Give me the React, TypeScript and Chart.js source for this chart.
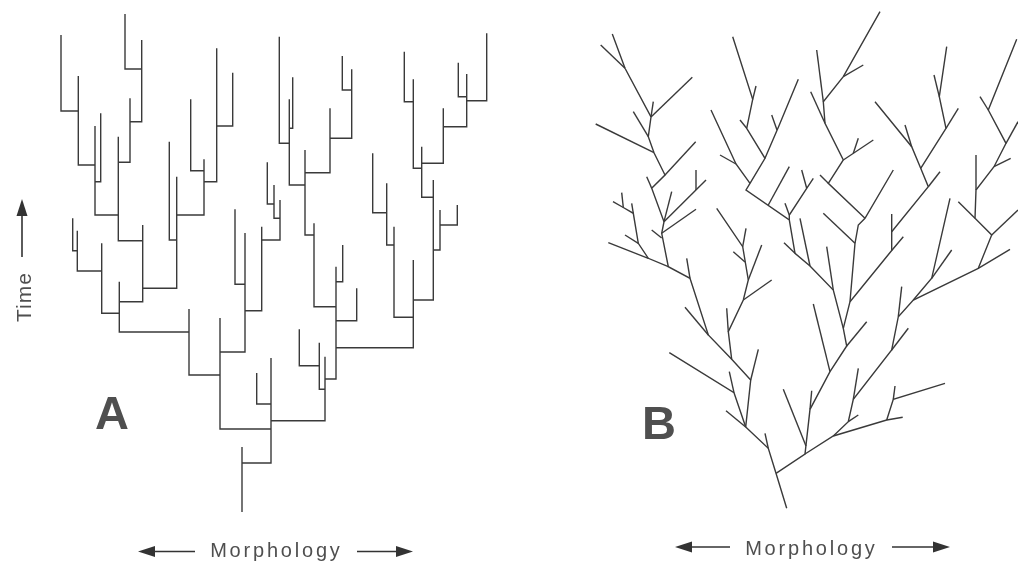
import React, { useEffect, useRef } from "react";
import { Chart, registerables } from "chart.js";

Chart.register(...registerables);

type Pt = [number, number];

// Panel A: punctuated pattern (rectangular branching). Each polyline: [morphology, time-row]
const treeA: Pt[][] = [
  [[242, 512], [242, 447]],
  [[242, 463], [271, 463], [271, 358]],
  [[271, 429], [220, 429], [220, 318]],
  [[271, 420.7], [325, 420.7], [325, 356.7]],
  [[271, 404], [256.7, 404], [256.7, 373]],
  [[220, 375], [189, 375], [189, 309]],
  [[220, 352], [245, 352], [245, 233]],
  [[189, 332], [119.3, 332], [119.3, 281.7]],
  [[245, 310.7], [261.7, 310.7], [261.7, 226.7]],
  [[245, 284.3], [235, 284.3], [235, 209.3]],
  [[261.7, 240], [280, 240], [280, 200]],
  [[280, 218.3], [274, 218.3], [274, 185]],
  [[274, 204], [267.3, 204], [267.3, 162.3]],
  [[325, 389.3], [319.3, 389.3], [319.3, 342.7]],
  [[319.3, 365.7], [299.3, 365.7], [299.3, 329.3]],
  [[325, 379], [336, 379], [336, 266.7]],
  [[336, 347.7], [413.3, 347.7], [413.3, 260]],
  [[336, 320.7], [356.7, 320.7], [356.7, 288.3]],
  [[336, 306.7], [314, 306.7], [314, 223.3]],
  [[336, 281.7], [342.7, 281.7], [342.7, 245]],
  [[314, 235], [305, 235], [305, 150]],
  [[305, 172.7], [330, 172.7], [330, 108.3]],
  [[330, 138.3], [351.7, 138.3], [351.7, 69.3]],
  [[351.7, 90], [342.3, 90], [342.3, 56]],
  [[305, 185], [289.3, 185], [289.3, 99.3]],
  [[289.3, 143.3], [279.3, 143.3], [279.3, 36.7]],
  [[289.3, 128.3], [292.7, 128.3], [292.7, 77.3]],
  [[413.3, 300], [433.3, 300], [433.3, 180]],
  [[413.3, 317.3], [394, 317.3], [394, 226.7]],
  [[394, 245], [386.7, 245], [386.7, 183.3]],
  [[386.7, 212.7], [372.7, 212.7], [372.7, 153.3]],
  [[433.3, 250], [440, 250], [440, 210]],
  [[440, 225], [457.3, 225], [457.3, 205]],
  [[433.3, 197.3], [421.7, 197.3], [421.7, 146.7]],
  [[421.7, 168.3], [413.3, 168.3], [413.3, 79.3]],
  [[421.7, 163.3], [443.3, 163.3], [443.3, 108.3]],
  [[443.3, 126.7], [466.7, 126.7], [466.7, 74]],
  [[466.7, 100.7], [486.7, 100.7], [486.7, 33.3]],
  [[466.7, 96.7], [458.3, 96.7], [458.3, 62.7]],
  [[413.3, 101.7], [404.3, 101.7], [404.3, 51.7]],
  [[119.3, 301.7], [142.7, 301.7], [142.7, 225]],
  [[119.3, 313.3], [101.7, 313.3], [101.7, 243.3]],
  [[142.7, 288.3], [176.7, 288.3], [176.7, 176.7]],
  [[142.7, 240.7], [118.3, 240.7], [118.3, 136.7]],
  [[176.7, 240], [169.3, 240], [169.3, 141.7]],
  [[176.7, 215], [204, 215], [204, 159.3]],
  [[204, 181.7], [216.7, 181.7], [216.7, 48.3]],
  [[204, 170.7], [190.7, 170.7], [190.7, 99.3]],
  [[216.7, 126], [232.7, 126], [232.7, 72.7]],
  [[118.3, 215], [95, 215], [95, 126]],
  [[118.3, 162.3], [130, 162.3], [130, 98.3]],
  [[130, 121.7], [141.7, 121.7], [141.7, 40]],
  [[141.7, 69], [125, 69], [125, 14]],
  [[95, 181.7], [100.7, 181.7], [100.7, 113.3]],
  [[95, 165], [78.3, 165], [78.3, 76]],
  [[78.3, 111], [61, 111], [61, 35]],
  [[101.7, 271], [77.3, 271], [77.3, 230.7]],
  [[77.3, 250.7], [72.7, 250.7], [72.7, 218.3]],
];

// Panel B: gradual pattern (oblique branching)
const treeB: Pt[][] = [
  // left lineage
  [[786.7, 508.3], [776, 473.3], [768.3, 448.3], [745.7, 427], [750.7, 380], [731.7, 359.3], [708.3, 335], [690, 278.3], [668.3, 266.7], [661.7, 233.3], [664, 221.7], [651.7, 188.3], [665, 175], [654, 152.7], [648.3, 136.7], [651, 117], [625, 68.3], [612.3, 34]],
  [[625, 68.3], [600.7, 45]],
  [[651, 117], [653.3, 101.7]],
  [[651, 117], [692.3, 77.3]],
  [[648.3, 136.7], [633.3, 111.7]],
  [[654, 152.7], [595.7, 124]],
  [[665, 175], [695.7, 141.7]],
  [[651.7, 188.3], [646.7, 176.7]],
  [[664, 221.7], [706, 180]],
  [[696.5, 189.4], [696, 170]],
  [[664, 221.7], [671.7, 191.7]],
  [[661.7, 233.3], [696, 209.3]],
  [[661.7, 238], [651.7, 230]],
  [[668.3, 266.7], [648.3, 258.3], [638.3, 243.3], [633.3, 213.3], [623.3, 207.5], [613, 201.7]],
  [[648.3, 258.3], [608.3, 242.7]],
  [[638.3, 243.3], [625, 235]],
  [[633.3, 213.3], [631.7, 203.3]],
  [[623.3, 207.5], [621.7, 192.7]],
  [[690, 278.3], [686.7, 258.3]],
  [[708.3, 335], [685, 307.3]],
  [[750.7, 380], [758.3, 349.3]],
  [[745.7, 427], [734, 392.7], [669.3, 352.7]],
  [[734, 392.7], [729.3, 371.7]],
  [[745.7, 427], [726, 410.7]],
  [[768.3, 448.3], [765, 433.3]],
  // middle lineage
  [[731.7, 359.3], [728.3, 331.7], [743.3, 300], [748.3, 280], [742.7, 246.7], [716.7, 208.3]],
  [[728.3, 331.7], [726.7, 308.3]],
  [[743.3, 300], [771.7, 280]],
  [[748.3, 280], [761.7, 245]],
  [[745, 262], [733.3, 251.7]],
  [[742.7, 246.7], [746, 228.3]],
  // central lineage
  [[776, 473.3], [805, 454], [810, 409.3], [830, 371.7], [846.7, 346], [843.3, 328.3], [833.3, 290], [810, 266], [795, 253.3], [789.3, 220], [746, 190], [750, 183.3], [765, 158.3], [746.7, 128.3], [752.7, 99.3], [732.7, 36.7]],
  [[806, 446], [783.3, 389.3]],
  [[810, 409.3], [811.7, 390.7]],
  [[830, 371.7], [813.3, 304]],
  [[846.7, 346], [866.7, 321.7]],
  [[833.3, 290], [826.7, 246.7]],
  [[810, 266], [800, 218.3]],
  [[795, 253.3], [784, 242.7]],
  [[789.3, 220], [789.3, 215], [806.7, 188.3], [813.3, 178.3]],
  [[806.7, 188.3], [801.7, 170]],
  [[789.3, 215], [785, 203.3]],
  [[768.3, 205], [789.3, 166.7]],
  [[750, 183.3], [736, 164], [711, 110]],
  [[736, 164], [720, 155]],
  [[765, 158.3], [779.3, 125], [798.3, 79.3]],
  [[777, 130], [771.7, 115]],
  [[746.7, 128.3], [740, 120]],
  [[752.7, 99.3], [756, 86]],
  // upper right of centre
  [[843.3, 328.3], [850, 301.7], [855, 243.3], [858.3, 225], [865, 218.3], [893.3, 170]],
  [[855, 243.3], [823.3, 213.3]],
  [[865, 218.3], [828.3, 183.3], [843.3, 160], [825, 123.3], [823.3, 101.7], [843.3, 76.7], [880, 11.7]],
  [[828.3, 183.3], [820, 175]],
  [[843.3, 160], [873.3, 140]],
  [[853.3, 153.3], [858.3, 138.3]],
  [[825, 123.3], [810.7, 91.7]],
  [[823.3, 101.7], [816.7, 50]],
  [[843.3, 76.7], [863.3, 65]],
  [[850, 301.7], [891.7, 250.5], [903.3, 236.7]],
  [[891.7, 250.5], [891.7, 231.7], [891.7, 214]],
  [[891.7, 231.7], [928.3, 186.7], [920.7, 168.3], [911.7, 146.7], [875, 101.7]],
  [[928.3, 186.7], [940, 171.7]],
  [[911.7, 146.7], [905, 125]],
  [[920.7, 168.3], [946, 128.3], [939.3, 96.7], [946.7, 46.7]],
  [[946, 128.3], [958.3, 108.3]],
  [[939.3, 96.7], [934, 75]],
  // right trunk
  [[805, 454], [833.3, 436], [886.7, 420], [902.7, 417.3]],
  [[886.7, 420], [893.3, 399.3], [945, 383.3]],
  [[893.3, 399.3], [895, 386]],
  [[833.3, 436], [848.3, 421.7], [853.3, 399.3], [891.7, 350], [898.3, 316.7], [913.3, 300], [978.3, 268.3], [1010, 249.3]],
  [[848.3, 421.7], [858.3, 415]],
  [[853.3, 399.3], [858.3, 368.3]],
  [[891.7, 350], [908.3, 328.3]],
  [[898.3, 316.7], [901.7, 286.7]],
  [[913.3, 300], [931.7, 278.3], [950, 198.3]],
  [[931.7, 278.3], [951.7, 250]],
  [[978.3, 268.3], [991.7, 235], [975, 218.3], [976, 190], [994, 166.7], [1006, 143.3], [988.3, 110], [1016.7, 39.3]],
  [[991.7, 235], [1018, 210]],
  [[975, 218.3], [958.3, 201.7]],
  [[976, 190], [976, 155]],
  [[994, 166.7], [1010.7, 158.3]],
  [[1006, 143.3], [1018, 121.7]],
  [[988.3, 110], [980, 96.7]],
];

const panelLabels = ["A", "B"];
const axisLabelX = "Morphology";
const axisLabelY = "Time";

const W = 1018;
const H = 563;

const annotations = {
  id: "annotations",
  afterDraw(chart: any) {
    const ctx: CanvasRenderingContext2D = chart.ctx;
    const sx = chart.scales.x;
    const sy = chart.scales.y;
    const X = (v: number) => sx.getPixelForValue(v);
    const Y = (v: number) => sy.getPixelForValue(v);

    const arrow = (x1: number, y1: number, x2: number, y2: number, color: string) => {
      const a = Math.atan2(Y(y2) - Y(y1), X(x2) - X(x1));
      const len = 17;
      const hw = 5.5;
      const bx = X(x2) - len * Math.cos(a);
      const by = Y(y2) - len * Math.sin(a);
      ctx.save();
      ctx.strokeStyle = color;
      ctx.fillStyle = color;
      ctx.lineWidth = 1.6;
      ctx.beginPath();
      ctx.moveTo(X(x1), Y(y1));
      ctx.lineTo(bx, by);
      ctx.stroke();
      ctx.beginPath();
      ctx.moveTo(X(x2), Y(y2));
      ctx.lineTo(bx - hw * Math.sin(a), by + hw * Math.cos(a));
      ctx.lineTo(bx + hw * Math.sin(a), by - hw * Math.cos(a));
      ctx.closePath();
      ctx.fill();
      ctx.restore();
    };

    const grey = "#4f4f4f";
    const dark = "#333";

    // Time axis
    arrow(22, 257, 22, 199, dark);
    ctx.save();
    ctx.fillStyle = grey;
    ctx.font = '21px "Liberation Sans", Arial, sans-serif';
    (ctx as any).letterSpacing = "1px";
    ctx.translate(X(31), Y(297));
    ctx.rotate(-Math.PI / 2);
    ctx.textAlign = "center";
    ctx.textBaseline = "alphabetic";
    ctx.fillText(axisLabelY, 0, 0);
    ctx.restore();

    // Morphology labels
    const morph = (cx: number, base: number, ay: number, l1: number, l2: number, r1: number, r2: number) => {
      arrow(l2, ay, l1, ay, dark);
      arrow(r1, ay, r2, ay, dark);
      ctx.save();
      ctx.fillStyle = grey;
      ctx.font = '20px "Liberation Sans", Arial, sans-serif';
      (ctx as any).letterSpacing = "2.8px";
      ctx.textAlign = "center";
      ctx.textBaseline = "alphabetic";
      ctx.fillText(axisLabelX, X(cx) + 1.4, Y(base));
      ctx.restore();
    };
    morph(275, 557, 551.5, 138, 195, 357, 413);
    morph(810, 555, 547, 675, 730, 892, 950);

    // Panel letters
    ctx.save();
    ctx.fillStyle = grey;
    ctx.font = 'bold 47px "Liberation Sans", Arial, sans-serif';
    ctx.textAlign = "center";
    ctx.textBaseline = "alphabetic";
    ctx.fillText(panelLabels[0], X(112), Y(428.5));
    ctx.fillText(panelLabels[1], X(659), Y(439));
    ctx.restore();
  },
};

export default function App() {
  const ref = useRef<HTMLCanvasElement | null>(null);

  useEffect(() => {
    document.body.style.margin = "0";
    document.body.style.background = "#fff";
    const canvas = ref.current;
    if (!canvas) return;
    const toData = (lines: Pt[][]) =>
      lines.map((line) => ({
        data: line.map(([x, y]) => ({ x, y })),
        showLine: true,
        borderColor: "#3a3a3a",
        borderWidth: 1.4,
        pointRadius: 0,
        pointHoverRadius: 0,
        tension: 0,
        fill: false,
        borderJoinStyle: "miter" as const,
      }));
    const chart = new Chart(canvas, {
      type: "scatter",
      data: { datasets: [...toData(treeA), ...toData(treeB)] as any },
      options: {
        animation: false,
        responsive: false,
        maintainAspectRatio: false,
        layout: { padding: 0 },
        events: [],
        plugins: {
          legend: { display: false },
          tooltip: { enabled: false },
          title: { display: false },
        },
        scales: {
          x: { type: "linear", min: 0, max: W, display: false },
          y: { type: "linear", min: 0, max: H, reverse: true, display: false },
        },
      },
      plugins: [annotations],
    });
    return () => chart.destroy();
  }, []);

  return (
    <div style={{ width: W, height: H, background: "#fff" }}>
      <canvas ref={ref} width={W} height={H} style={{ display: "block", width: W, height: H }} />
    </div>
  );
}
